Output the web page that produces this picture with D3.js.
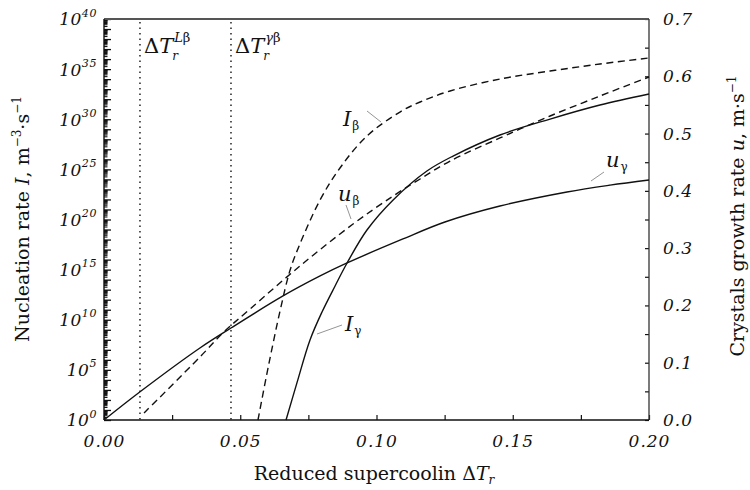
<!DOCTYPE html>
<html>
<head>
<meta charset="utf-8">
<script src="https://cdn.jsdelivr.net/npm/d3@7"></script>
<style>
body { margin: 0; background: #fff; }
text { font-family: "DejaVu Serif", serif; fill: #111; }
</style>
</head>
<body>
<div id="chart"></div>
<script>
// Data (I as powers of ten, u in m/s)
const iBetaX = [0.0565, 0.0602, 0.0646, 0.0683, 0.0719, 0.0793, 0.0866, 0.0965, 0.1086, 0.116, 0.127, 0.1453, 0.1637, 0.182, 0.2];
const iBetaExp = [0, 5.19, 10.87, 14.96, 17.56, 21.95, 25.14, 28.33, 30.72, 31.72, 32.82, 34.01, 34.81, 35.51, 36.11];
const iGammaX = [0.0668, 0.0708, 0.0756, 0.0800, 0.0848, 0.0892, 0.0965, 0.1061, 0.1185, 0.1281, 0.1453, 0.1637, 0.182, 0.2];
const iGammaExp = [0, 3.7, 7.98, 10.77, 13.37, 15.66, 18.95, 21.95, 24.84, 26.33, 28.43, 30.02, 31.42, 32.52];
const uBetaX = [0.0147, 0.0352, 0.044, 0.0536, 0.0719, 0.0914, 0.1061, 0.116, 0.127, 0.1453, 0.1552, 0.1637, 0.182, 0.2];
const uBetaY = [0.0122, 0.110, 0.1536, 0.1938, 0.2688, 0.3421, 0.391, 0.4207, 0.4521, 0.4923, 0.5132, 0.5307, 0.5656, 0.5988];
const uGammaX = [0, 0.0136, 0.0352, 0.0466, 0.0657, 0.0793, 0.0892, 0.1097, 0.1251, 0.1453, 0.1699, 0.1857, 0.2];
const uGammaY = [0, 0.0506, 0.1257, 0.1606, 0.2165, 0.2514, 0.2741, 0.316, 0.3456, 0.3735, 0.398, 0.410, 0.419];
const markersX = [0.0132, 0.0466];
const markerSups = ['L', 'γ'];
const xTicks = [0, 0.025, 0.05, 0.075, 0.1, 0.125, 0.15, 0.175, 0.2];
const uTicks = [0, 0.05, 0.1, 0.15, 0.2, 0.25, 0.3, 0.35, 0.4, 0.45, 0.5, 0.55, 0.6, 0.65, 0.7];
const iLabelExps = [0, 5, 10, 15, 20, 25, 30, 35, 40];

let W = 750, H = 490;
let margin = {top: 19, right: 101, bottom: 70, left: 104};
let w = W - margin.left - margin.right;
let h = H - margin.top - margin.bottom;

let svg = d3.select('#chart').append('svg')
	.attr('width', W)
	.attr('height', H);

let g = svg.append('g')
	.attr('transform', 'translate(' + margin.left + ',' + margin.top + ')');

let x = d3.scaleLinear().domain([0, 0.2]).range([0, w]);
let yI = d3.scaleLog().domain([1, 1e40]).range([h, 0]);
let yU = d3.scaleLinear().domain([0, 0.7]).range([h, 0]);

function styleTicks(sel) {
	sel.select('.domain').remove();
	sel.selectAll('text')
	   .attr('font-size', 17)
	   .attr('font-style', 'italic')
	   .attr('letter-spacing', 1)
	   .attr('fill', '#111')
	   .attr('font-family', '"DejaVu Serif", serif');
	sel.selectAll('line').attr('stroke', '#111').attr('stroke-width', 1.2);
}

// bottom axis, ticks point inward
let xAxis = g.append('g')
	.attr('transform', 'translate(0,' + h + ')')
	.call(d3.axisBottom(x).tickValues(xTicks).tickSize(-5).tickPadding(15)
		.tickFormat(d => (Math.round(d * 1000) % 50 === 0) ? d3.format('.2f')(d) : ''));
styleTicks(xAxis);

// right axis (growth rate)
let uAxis = g.append('g')
	.attr('transform', 'translate(' + w + ',0)')
	.call(d3.axisRight(yU).tickValues(uTicks).tickSize(-4).tickPadding(14)
		.tickFormat(d => (Math.round(d * 100) % 10 === 0) ? d3.format('.1f')(d) : ''));
styleTicks(uAxis);

// left log axis: decade ticks + minor ticks
let minor = [];
for (let k = 0; k < 40; k++) {
	for (let m = 2; m < 10; m++) minor.push(m * Math.pow(10, k));
}
let decades = d3.range(0, 41).map(k => Math.pow(10, k));
let iMinor = g.append('g')
	.call(d3.axisRight(yI).tickValues(minor).tickSize(3.5).tickFormat(''));
iMinor.select('.domain').remove();
iMinor.selectAll('line').attr('stroke', '#111').attr('stroke-width', 1.1);
let iMajor = g.append('g')
	.call(d3.axisRight(yI).tickValues(decades).tickSize(7).tickFormat(''));
iMajor.select('.domain').remove();
iMajor.selectAll('line').attr('stroke', '#111').attr('stroke-width', 1.3);

let iLabels = g.selectAll('.ilab')
	.data(iLabelExps)
	.enter()
	.append('text')
	.attr('class', 'ilab')
	.attr('x', -7)
	.attr('y', d => yI(Math.pow(10, d)))
	.attr('dy', '0.4em')
	.attr('text-anchor', 'end')
	.attr('font-style', 'italic');
iLabels.append('tspan').attr('font-size', 17).attr('letter-spacing', 0.5).text('10');
iLabels.append('tspan').attr('font-size', 11).attr('dy', '-0.8em').attr('letter-spacing', 0.6).text(d => d);

// frame
g.append('line').attr('x1', 0).attr('x2', w).attr('y1', 0).attr('y2', 0).attr('stroke', '#555').attr('stroke-width', 1.8);
g.append('line').attr('x1', w).attr('x2', w).attr('y1', 0).attr('y2', h).attr('stroke', '#333').attr('stroke-width', 1.3);
g.append('line').attr('x1', 0).attr('x2', w).attr('y1', h).attr('y2', h).attr('stroke', '#111').attr('stroke-width', 1.4);
g.append('line').attr('x1', 0).attr('x2', 0).attr('y1', 0).attr('y2', h).attr('stroke', '#111').attr('stroke-width', 1.4);

// vertical dotted markers
g.selectAll('.marker')
	.data(markersX)
	.enter()
	.append('line')
	.attr('class', 'marker')
	.attr('x1', d => x(d)).attr('x2', d => x(d))
	.attr('y1', 3).attr('y2', h)
	.attr('stroke', '#222')
	.attr('stroke-width', 1.5)
	.attr('stroke-dasharray', '1.5,4');

// ΔT_r marker labels: main part, then sub- and superscript stacked after it
markersX.forEach(function(d, i) {
	let x0 = margin.left + x(d) + 4;
	let main = svg.append('text')
		.attr('x', x0)
		.attr('y', 53)
		.attr('font-size', 21);
	main.append('tspan').text('Δ');
	main.append('tspan').attr('font-style', 'italic').text('T');
	let x1 = x0 + main.node().getComputedTextLength();
	svg.append('text')
		.attr('x', x1 - 1)
		.attr('y', 60)
		.attr('font-size', 12)
		.attr('font-style', 'italic')
		.text('r');
	let sup = svg.append('text')
		.attr('x', x1 + 1)
		.attr('y', 42)
		.attr('font-size', 13);
	sup.append('tspan').attr('font-style', 'italic').text(markerSups[i]);
	sup.append('tspan').text('β');
});

// curves
let lineI = d3.line().x(d => x(d[0])).y(d => yI(Math.pow(10, d[1]))).curve(d3.curveCatmullRom.alpha(0.5));
let lineU = d3.line().x(d => x(d[0])).y(d => yU(d[1])).curve(d3.curveCatmullRom.alpha(0.5));

let curves = [
	{pts: d3.zip(uGammaX, uGammaY), line: lineU, dash: null},
	{pts: d3.zip(uBetaX, uBetaY), line: lineU, dash: '7,4.5'},
	{pts: d3.zip(iGammaX, iGammaExp), line: lineI, dash: null},
	{pts: d3.zip(iBetaX, iBetaExp), line: lineI, dash: '7,4.5'}
];
g.selectAll('.curve')
	.data(curves)
	.enter()
	.append('path')
	.attr('class', 'curve')
	.attr('fill', 'none')
	.attr('stroke', '#111')
	.attr('stroke-width', 1.4)
	.attr('stroke-dasharray', d => d.dash)
	.attr('d', d => d.line(d.pts));

// curve labels with leader lines (page coords)
let curveLabels = [
	{v: 'I', s: 'β', tx: 343, ty: 126, l: [367, 111, 381, 122]},
	{v: 'u', s: 'β', tx: 338, ty: 201, l: [346, 205, 351, 219]},
	{v: 'I', s: 'γ', tx: 345, ty: 331, l: [342, 325, 317, 334]},
	{v: 'u', s: 'γ', tx: 606, ty: 167, l: [604, 172, 591, 181]}
];
let lab = svg.selectAll('.clab')
	.data(curveLabels)
	.enter()
	.append('g')
	.attr('class', 'clab');
lab.append('line')
	.attr('x1', d => d.l[0]).attr('y1', d => d.l[1])
	.attr('x2', d => d.l[2]).attr('y2', d => d.l[3])
	.attr('stroke', '#888').attr('stroke-width', 0.9);
let labText = lab.append('text')
	.attr('x', d => d.tx)
	.attr('y', d => d.ty);
labText.append('tspan').attr('font-size', 21).attr('font-style', 'italic').text(d => d.v);
labText.append('tspan').attr('font-size', 12).attr('dy', 4).attr('dx', 1).text(d => d.s);

// axis titles
let leftTitle = svg.append('text')
	.attr('transform', 'translate(29,219) rotate(-90)')
	.attr('text-anchor', 'middle')
	.attr('font-size', 19);
leftTitle.append('tspan').text('Nucleation rate ');
leftTitle.append('tspan').attr('font-style', 'italic').text('I');
leftTitle.append('tspan').text(', m');
leftTitle.append('tspan').attr('font-size', 12).attr('dy', -8).text('−3');
leftTitle.append('tspan').attr('dy', 8).text('·s');
leftTitle.append('tspan').attr('font-size', 12).attr('dy', -8).text('−1');

let rightTitle = svg.append('text')
	.attr('transform', 'translate(744,216) rotate(-90)')
	.attr('text-anchor', 'middle')
	.attr('font-size', 19);
rightTitle.append('tspan').text('Crystals growth rate ');
rightTitle.append('tspan').attr('font-style', 'italic').text('u');
rightTitle.append('tspan').text(', m·s');
rightTitle.append('tspan').attr('font-size', 12).attr('dy', -8).text('−1');

let bottomTitle = svg.append('text')
	.attr('x', 374)
	.attr('y', 480)
	.attr('text-anchor', 'middle')
	.attr('font-size', 19);
bottomTitle.append('tspan').text('Reduced supercoolin Δ');
bottomTitle.append('tspan').attr('font-style', 'italic').text('T');
bottomTitle.append('tspan').attr('font-style', 'italic').attr('font-size', 12).attr('dy', 4).text('r');
</script>
</body>
</html>
